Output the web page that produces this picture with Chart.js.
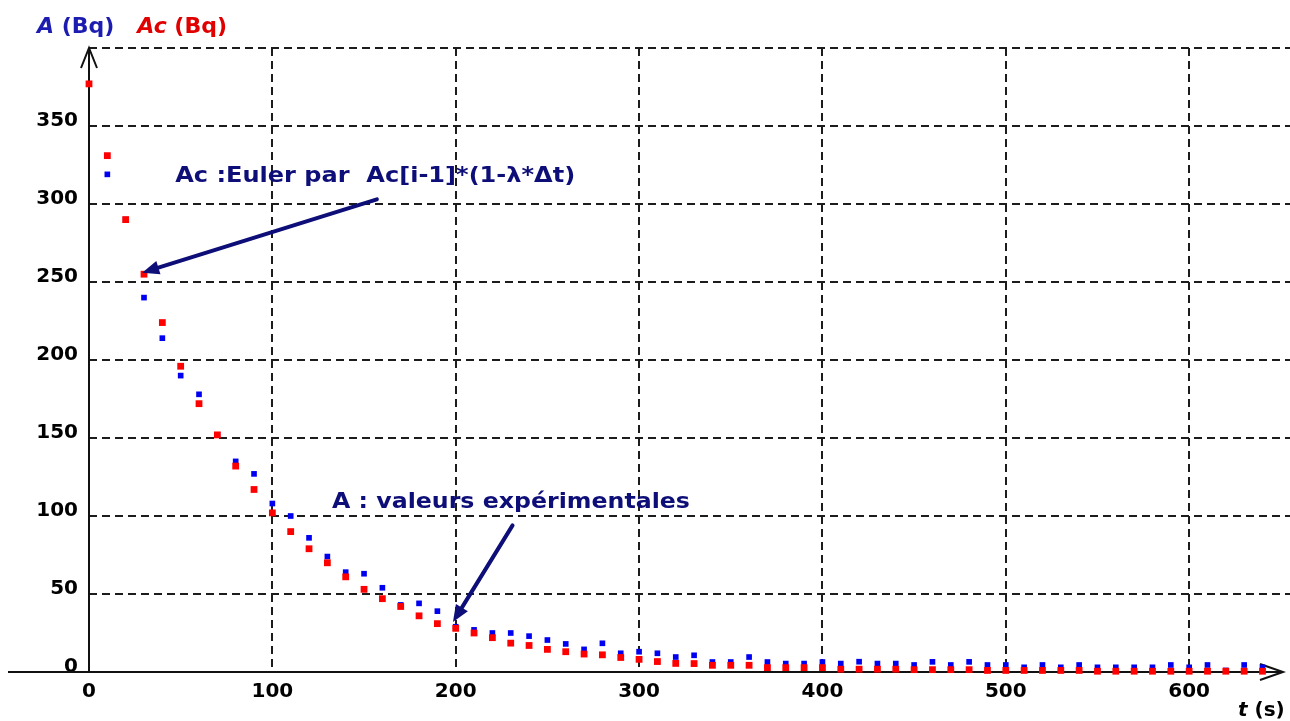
<!DOCTYPE html>
<html lang="fr">
<head>
<meta charset="utf-8">
<title>A et Ac (Bq) en fonction de t (s)</title>
<script src="https://cdn.jsdelivr.net/npm/chart.js@4/dist/chart.umd.min.js"></script>
<style>
  body { margin: 0; background: #fff; }
  #wrap { width: 1290px; height: 721px; }
</style>
</head>
<body>
<div id="wrap"><canvas id="chart" width="1290" height="721"></canvas></div>
<script>
// temps (s), un point toutes les 10 s
const times = [0, 10, 20, 30, 40, 50, 60, 70, 80, 90, 100, 110, 120, 130, 140, 150, 160, 170, 180, 190,
    200, 210, 220, 230, 240, 250, 260, 270, 280, 290, 300, 310, 320, 330, 340, 350, 360, 370, 380, 390,
    400, 410, 420, 430, 440, 450, 460, 470, 480, 490, 500, 510, 520, 530, 540, 550, 560, 570, 580, 590,
    600, 610, 620, 630, 640];

// A : valeurs expérimentales (Bq)
const aExp = [377, 319, 290, 240, 214, 190, 178, 152, 135, 127, 108, 100, 86, 74, 64, 63, 54, 43, 44, 39,
    29, 27, 25, 25, 23, 20.5, 18, 14.5, 18.4, 12, 13, 12, 9.6, 10.7, 6.4, 6.4, 9.6, 6.4, 5.4, 5.4,
    6.4, 5.4, 6.6, 5.4, 5.4, 4.5, 6.5, 4.5, 6.5, 4.5, 4.5, 3, 4.5, 3, 4.5, 3, 3, 3, 3, 4.5,
    3, 4.5, 1, 4.5, 3];

// Ac : Euler (Bq)
const aEuler = [377, 331, 290, 255, 224, 196, 172, 152, 132, 117, 102, 90, 79, 70, 61, 53, 47, 42, 36, 31,
    28, 25, 22, 18.5, 17, 14.5, 13, 11.5, 11, 9.3, 8.1, 6.7, 5.5, 5.4, 4.3, 4.3, 4.3, 2.8, 2.8, 2.8,
    2.8, 1.8, 1.8, 1.8, 1.8, 1.5, 1.5, 1.5, 1.5, 1, 1, 1, 1, 1, 1, 0.5, 0.5, 0.5, 0.5, 0.5,
    0.5, 0.5, 0.5, 0.5, 0.5];

const xTicks = [0, 100, 200, 300, 400, 500, 600];
const yTicks = [0, 50, 100, 150, 200, 250, 300, 350, 400];
const yLabels = ['0', '50', '100', '150', '200', '250', '300', '350', ''];

const NAVY = '#0e0e78';
const GRID = '#1c1c1c';
const TICK_FONT = { family: 'DejaVu Sans', weight: 'bold', size: 20 };

// annotations, en coordonnées des données
const notes = [
    { text: 'Ac :Euler par  Ac[i-1]*(1-λ*Δt)', x: 47, y: 314, width: 400, size: 22 },
    { text: 'A : valeurs expérimentales', x: 132.5, y: 105, width: 358, size: 21 }
];
const arrows = [
    { from: [157, 303], to: [29, 256] },
    { from: [231, 94], to: [198.5, 32] }
];

function fitText(ctx, text, x, y, width) {
    const w = ctx.measureText(text).width;
    ctx.save();
    ctx.translate(x, y);
    ctx.scale(width / w, 1);
    ctx.fillText(text, 0, 0);
    ctx.restore();
}

function arrow(ctx, x1, y1, x2, y2) {
    const ang = Math.atan2(y2 - y1, x2 - x1);
    const len = 17, half = 7;
    const bx = x2 - len * Math.cos(ang), by = y2 - len * Math.sin(ang);
    ctx.beginPath();
    ctx.moveTo(x1, y1);
    ctx.lineTo(bx, by);
    ctx.stroke();
    ctx.beginPath();
    ctx.moveTo(x2, y2);
    ctx.lineTo(bx + half * Math.sin(ang), by - half * Math.cos(ang));
    ctx.lineTo(bx - half * Math.sin(ang), by + half * Math.cos(ang));
    ctx.closePath();
    ctx.fill();
}

const axesPlugin = {
    id: 'axes',
    beforeDatasetsDraw(chart) {
        const { ctx, scales: { x, y } } = chart;
        const x0 = x.getPixelForValue(0);
        const y0 = y.getPixelForValue(0);
        const yTop = y.getPixelForValue(400);
        const xTip = x.right - 7;
        ctx.save();
        ctx.strokeStyle = '#111';
        ctx.lineWidth = 2;
        ctx.beginPath();
        ctx.moveTo(x0, y0);
        ctx.lineTo(x0, yTop);
        ctx.moveTo(8, y0);
        ctx.lineTo(xTip, y0);
        // flèches
        ctx.moveTo(x0 - 8, yTop + 20);
        ctx.lineTo(x0, yTop);
        ctx.lineTo(x0 + 8, yTop + 20);
        ctx.moveTo(xTip - 23, y0 - 8);
        ctx.lineTo(xTip, y0);
        ctx.lineTo(xTip - 23, y0 + 8);
        ctx.stroke();
        ctx.restore();
    },
    afterDatasetsDraw(chart) {
        const { ctx, scales: { x, y } } = chart;
        ctx.save();
        ctx.fillStyle = NAVY;
        ctx.strokeStyle = NAVY;
        ctx.lineWidth = 4;
        ctx.lineCap = 'round';
        ctx.textBaseline = 'alphabetic';
        notes.forEach(n => {
            ctx.font = `bold ${n.size}px "DejaVu Sans"`;
            fitText(ctx, n.text, x.getPixelForValue(n.x), y.getPixelForValue(n.y), n.width);
        });
        arrows.forEach(a => {
            arrow(ctx, x.getPixelForValue(a.from[0]), y.getPixelForValue(a.from[1]),
                x.getPixelForValue(a.to[0]), y.getPixelForValue(a.to[1]));
        });

        // titres des axes
        let px = 37;
        const parts = [
            ['A', 'italic bold', '#1c1cb0'], [' (Bq)', 'bold', '#1c1cb0'],
            ['   ', 'bold', '#000'],
            ['Ac', 'italic bold', '#e00000'], [' (Bq)', 'bold', '#e00000']
        ];
        parts.forEach(([t, style, color]) => {
            ctx.font = `${style} 22px "DejaVu Sans"`;
            ctx.fillStyle = color;
            ctx.fillText(t, px, 33);
            px += ctx.measureText(t).width;
        });
        ctx.fillStyle = '#000';
        ctx.font = 'italic bold 20px "DejaVu Sans"';
        ctx.fillText('t', 1238, 716);
        px = 1238 + ctx.measureText('t').width;
        ctx.font = 'bold 20px "DejaVu Sans"';
        ctx.fillText(' (s)', px, 716);
        ctx.restore();
    }
};

new Chart(document.getElementById('chart'), {
    type: 'scatter',
    data: {
        datasets: [
            {
                label: 'Ac',
                data: times.map((t, i) => ({ x: t, y: aEuler[i] })),
                backgroundColor: '#ff0000',
                borderWidth: 0,
                pointStyle: 'rect',
                pointRadius: 4.8,
                clip: false
            },
            {
                label: 'A',
                data: times.map((t, i) => ({ x: t, y: aExp[i] })),
                backgroundColor: '#0000f0',
                borderWidth: 0,
                pointStyle: 'rect',
                pointRadius: 4,
                clip: false
            }
        ]
    },
    options: {
        responsive: false,
        animation: false,
        devicePixelRatio: 1,
        events: [],
        layout: { autoPadding: false, padding: { top: 48, left: 0, right: 0, bottom: 0 } },
        plugins: { legend: { display: false }, tooltip: { enabled: false } },
        scales: {
            x: {
                type: 'linear',
                min: 0,
                max: 655,
                afterFit: s => { s.height = 49; },
                afterBuildTicks: s => { s.ticks = xTicks.map(v => ({ value: v })); },
                grid: {
                    drawTicks: false,
                    lineWidth: 2,
                    color: c => (c.tick && c.tick.value === 0 ? 'transparent' : GRID)
                },
                border: { display: false, dash: [8, 5] },
                ticks: { color: '#000', font: TICK_FONT, padding: 8, maxRotation: 0 }
            },
            y: {
                type: 'linear',
                min: 0,
                max: 400,
                afterFit: s => { s.width = 89; },
                afterBuildTicks: s => { s.ticks = yTicks.map(v => ({ value: v })); },
                grid: {
                    drawTicks: false,
                    lineWidth: 2,
                    color: c => (c.tick && c.tick.value === 0 ? 'transparent' : GRID)
                },
                border: { display: false, dash: [8, 5] },
                ticks: {
                    color: '#000',
                    font: TICK_FONT,
                    padding: 11,
                    labelOffset: -5,
                    callback: (v, i) => yLabels[i]
                }
            }
        }
    },
    plugins: [axesPlugin]
});
</script>
</body>
</html>
